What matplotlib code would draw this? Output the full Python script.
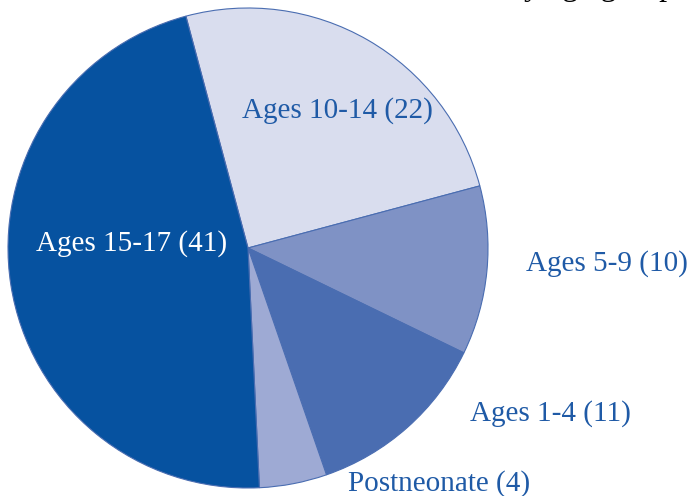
import matplotlib.pyplot as plt

# Slices in clockwise order starting from the top
labels = ["Ages 10-14", "Ages 5-9", "Ages 1-4", "Postneonate", "Ages 15-17"]
counts = [22, 10, 11, 4, 41]
colors = ["#D9DDEE", "#7F92C5", "#4A6DB1", "#9EAAD4", "#0652A0"]
text_colors = ["#1F5AA6", "#1F5AA6", "#1F5AA6", "#1F5AA6", "white"]
# label centres in pixel coords (x, y from bottom)
label_pos = [(337, 385), (607, 232), (550, 82), (439, 12), (132, 252)]

plt.rcParams["font.family"] = ["Liberation Serif", "DejaVu Serif"]

fig = plt.figure(figsize=(6.92, 4.96), dpi=100)
ax = fig.add_axes([0, 0, 1, 1])

ax.pie(
    counts,
    colors=colors,
    startangle=105,
    counterclock=False,
    center=(248, 248),
    radius=240,
    wedgeprops={"edgecolor": "#4A6DB1", "linewidth": 0.8},
    frame=True,
)
ax.set_xlim(0, 692)
ax.set_ylim(0, 496)
ax.set_aspect("equal")
ax.axis("off")

for lab, n, (x, y), c in zip(labels, counts, label_pos, text_colors):
    ax.text(x, y, f"{lab} ({n})", color=c, fontsize=21, ha="center", va="center")

# title cut off at the top of the image, only descenders show
ax.text(675, 501, "by age group", color="black", fontsize=23, ha="right", va="baseline",
        clip_on=False)

fig.savefig("out.png", dpi=100)
